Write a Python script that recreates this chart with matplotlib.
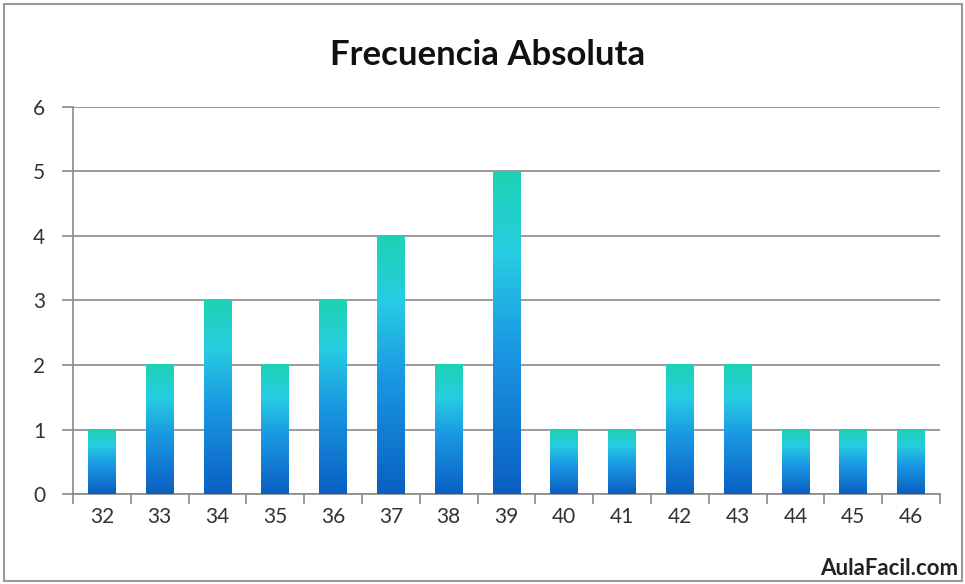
import numpy as np
import matplotlib
matplotlib.use("Agg")
import matplotlib.pyplot as plt
from matplotlib.colors import LinearSegmentedColormap
from matplotlib.patches import Rectangle

# datos
edades = ["32", "33", "34", "35", "36", "37", "38", "39", "40", "41", "42", "43", "44", "45", "46"]
frecuencias = [1, 2, 3, 2, 3, 4, 2, 5, 1, 1, 2, 2, 1, 1, 1]
titulo = "Frecuencia Absoluta"
marca = "AulaFacil.com"

plt.rcParams['font.family'] = ['Lato', 'DejaVu Sans']

fig = plt.figure(figsize=(9.65, 5.84), dpi=100)
ax = fig.add_axes([0.0756, 0.154, 0.8984, 0.663])

# degradado: abajo azul oscuro -> arriba verde azulado
cmap = LinearSegmentedColormap.from_list(
    "barras", [(0.0, "#0a5fc2"), (0.45, "#1a98e2"), (0.75, "#27cde2"), (1.0, "#1ed2b2")])
grad = np.linspace(1, 0, 256).reshape(-1, 1)

ancho = 0.48
for i, h in enumerate(frecuencias):
    x0 = i - ancho / 2
    ax.imshow(grad, extent=[x0, x0 + ancho, 0, h], aspect='auto', cmap=cmap,
              zorder=3, interpolation='bilinear')

ax.set_xlim(-0.5, len(edades) - 0.5)
ax.set_ylim(0, 6)
ax.set_aspect('auto')

# rejilla
ax.set_yticks(range(7))
ax.yaxis.grid(True, color='#8a8a8a', linewidth=1.2, zorder=1)
ax.set_axisbelow(True)

# ejes
for s in ['top', 'right']:
    ax.spines[s].set_visible(False)
for s in ['left', 'bottom']:
    ax.spines[s].set_color('#8a8a8a')
    ax.spines[s].set_linewidth(1.2)

ax.set_xticks(np.arange(len(edades) + 1) - 0.5)
ax.set_xticklabels([])
ax.set_xticks(range(len(edades)), minor=True)
ax.set_xticklabels(edades, minor=True)
ax.tick_params(axis='x', which='major', length=7, color='#8a8a8a', width=1.2)
ax.tick_params(axis='x', which='minor', length=0, pad=9, labelsize=15, labelcolor='#333333')
ax.tick_params(axis='y', length=8, color='#8a8a8a', width=1.2, pad=12,
               labelsize=15, labelcolor='#333333')

fig.text(0.505, 0.906, titulo, ha='center', va='center', fontsize=25,
         fontweight='bold', color='#111111')
fig.text(0.993, 0.027, marca, ha='right', va='center', fontsize=16,
         fontweight='bold', color='#222222')

# borde de la figura
fig.patches.append(Rectangle((0.004, 0.005), 0.993, 0.988, transform=fig.transFigure,
                             fill=False, edgecolor='#9a9a9a', linewidth=1.5))

fig.savefig("out.png", dpi=100)
